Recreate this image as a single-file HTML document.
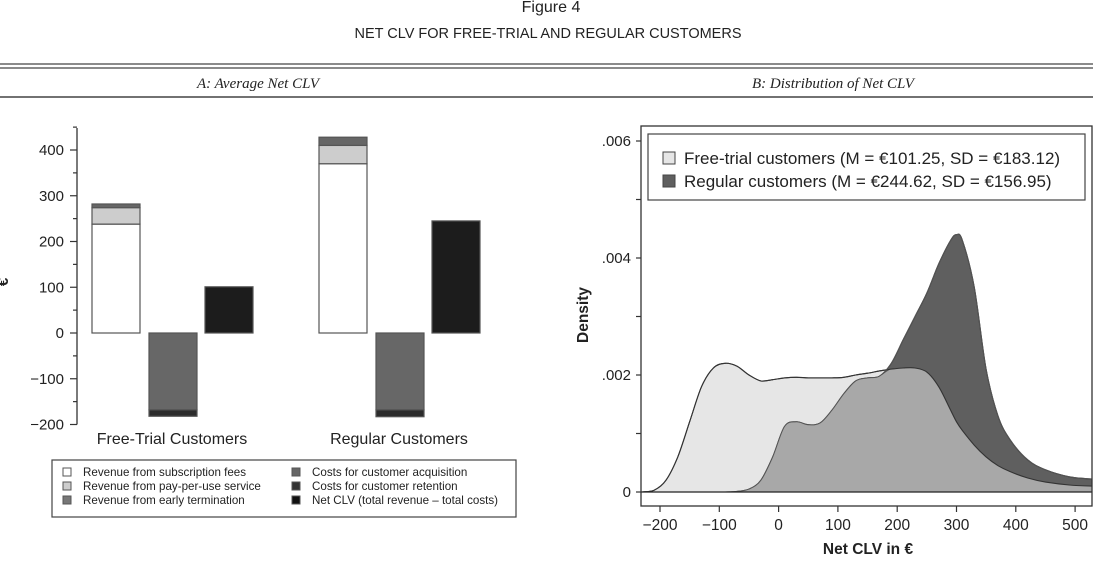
<!DOCTYPE html>
<html><head><meta charset="utf-8">
<style>
body{margin:0;background:#fff;width:1103px;height:569px;overflow:hidden}
svg{display:block;font-family:"Liberation Sans",sans-serif}
</style></head>
<body>
<svg id="fig" width="1103" height="569" viewBox="0 0 1103 569">
<text x="551" y="12" text-anchor="middle" font-size="16" fill="#222">Figure 4</text>
<text x="548" y="38" text-anchor="middle" font-size="14.5" fill="#222">NET CLV FOR FREE-TRIAL AND REGULAR CUSTOMERS</text>
<line x1="0" y1="64" x2="1093" y2="64" stroke="#444" stroke-width="1.2"/>
<line x1="0" y1="68" x2="1093" y2="68" stroke="#444" stroke-width="1.2"/>
<line x1="0" y1="97" x2="1093" y2="97" stroke="#444" stroke-width="1.5"/>
<text x="258" y="88" text-anchor="middle" font-size="15" font-style="italic" font-family="Liberation Serif,serif" fill="#222">A: Average Net CLV</text>
<text x="833" y="88" text-anchor="middle" font-size="15" font-style="italic" font-family="Liberation Serif,serif" fill="#222">B: Distribution of Net CLV</text>
<g id="left"></g>
<g id="right"></g>
</svg>
<script>
// Panel A data
const groups = ["Free-Trial Customers", "Regular Customers"];
const subscription = [238, 370];
const payPerUse = [36, 40];
const earlyTermination = [8, 18];
const acquisition = [-168, -168];
const retention = [-14, -15];
const netCLV = [101, 245];
const leftTicks = [-200, -100, 0, 100, 200, 300, 400];
// Panel B data
const densX = [-230,-210,-190,-170,-150,-130,-110,-90,-70,-50,-30,-10,10,30,50,70,90,110,130,150,170,190,210,230,250,270,290,300,310,330,350,370,390,420,450,490,530];
const freeTrialDensity = [0,0.00003,0.0002,0.0006,0.0012,0.0018,0.00212,0.0022,0.00215,0.002,0.0019,0.00192,0.00195,0.00196,0.00195,0.00195,0.00195,0.00196,0.002,0.00203,0.00207,0.0021,0.00212,0.00212,0.00205,0.0018,0.0014,0.0012,0.00105,0.0008,0.0006,0.00045,0.00035,0.00024,0.00017,0.00012,0.0001];
const regularDensity = [0,0,0,0,0,0,0,0,0.00001,0.00005,0.0002,0.0006,0.00112,0.0012,0.00115,0.00118,0.0014,0.00168,0.0019,0.00195,0.00198,0.0022,0.0026,0.003,0.0034,0.0039,0.0043,0.0044,0.0043,0.0035,0.0021,0.0013,0.0009,0.00055,0.00038,0.00026,0.00022];
const xTicks = [-200,-100,0,100,200,300,400,500];
const yTicks = [0,0.002,0.004,0.006];
const yTickLabels = ["0",".002",".004",".006"];

const NS="http://www.w3.org/2000/svg";
function mk(parent,tag,attrs,text){const e=document.createElementNS(NS,tag);for(const k in attrs)e.setAttribute(k,attrs[k]);if(text!==undefined)e.textContent=text;parent.appendChild(e);return e;}

// ---- Panel A
const L=document.getElementById('left');
const yA=v=>333-v*0.4575;
let e=mk(L,'line',{x1:77,y1:128,x2:77,y2:yA(-200),stroke:'#333','stroke-width':1.3});


for(let v=-200;v<=450;v+=50){
  const major=leftTicks.includes(v);
  e=mk(L,'line',{x1:major?70:73,y1:yA(v),x2:77,y2:yA(v),stroke:'#333','stroke-width':1.2});
  
  
}
leftTicks.forEach(v=>{
  e=mk(L,'text',{x:64,y:yA(v)+5,'text-anchor':'end','font-size':15,fill:'#222'},v<0?'\u2212'+(-v):String(v));
  
  
});
e=mk(L,'text',{x:8,y:282,'font-size':15,'font-weight':'bold',fill:'#222',transform:'rotate(-90 8 282)','text-anchor':'middle'},'€');


const groupX=[92,319];
function seg(x,v0,v1,fill,name){
  const a=yA(Math.max(v0,v1)),b=yA(Math.min(v0,v1));
  const r=mk(L,'rect',{x:x,y:a,width:48,height:b-a,fill:fill,stroke:'#555','stroke-width':1.2});
  
  
}
groups.forEach((g,i)=>{
  const x=groupX[i];
  let s=0;
  seg(x,s,s+subscription[i],'#fff','bar-subscription-fees');s+=subscription[i];
  seg(x,s,s+payPerUse[i],'#cdcdcd','bar-pay-per-use');s+=payPerUse[i];
  seg(x,s,s+earlyTermination[i],'#666','bar-early-termination');
  let c=0;
  seg(x+57,c,c+acquisition[i],'#676767','bar-acquisition-costs');c+=acquisition[i];
  seg(x+57,c,c+retention[i],'#2c2c2c','bar-retention-costs');
  seg(x+113,0,netCLV[i],'#1c1c1c','bar-net-clv');
  const t=mk(L,'text',{x:x+80,y:444,'text-anchor':'middle','font-size':16,fill:'#222'},g);
  
  
});
// legend A
const lg=mk(L,'g',{});


mk(lg,'rect',{x:52,y:460,width:464,height:57,fill:'#fff',stroke:'#444','stroke-width':1.2});
const legItems=[["Revenue from subscription fees","#fff",63,476],["Revenue from pay-per-use service","#cdcdcd",63,490],["Revenue from early termination","#777",63,504],["Costs for customer acquisition","#666",292,476],["Costs for customer retention","#333",292,490],["Net CLV (total revenue \u2013 total costs)","#111",292,504]];
legItems.forEach(it=>{
  const r=mk(lg,'rect',{x:it[2],y:it[3]-8,width:8,height:8,fill:it[1],stroke:'#555','stroke-width':1});
  
  
  const t=mk(lg,'text',{x:it[2]+20,y:it[3],'font-size':11.6,fill:'#222'},it[0]);
  
  
});

// ---- Panel B
const R=document.getElementById('right');
const xB=v=>660+(v+200)*0.593;
const yB=v=>492-v*58500;
const BX0=641,BX1=1092;
const cp=mk(R,'clipPath',{id:'clipB'});mk(cp,'rect',{x:BX0,y:126,width:BX1-BX0,height:380});
const plot=mk(R,'g',{'clip-path':'url(#clipB)'});
function smoothPath(vals){
  const pts=densX.map((x,i)=>[xB(x),yB(vals[i])]);
  let d='M'+pts[0][0].toFixed(1)+','+pts[0][1].toFixed(1);
  for(let i=0;i<pts.length-1;i++){
    const p0=pts[Math.max(0,i-1)],p1=pts[i],p2=pts[i+1],p3=pts[Math.min(pts.length-1,i+2)];
    const c1=[p1[0]+(p2[0]-p0[0])/6,p1[1]+(p2[1]-p0[1])/6];
    const c2=[p2[0]-(p3[0]-p1[0])/6,p2[1]-(p3[1]-p1[1])/6];
    c1[1]=Math.min(c1[1],yB(0));c2[1]=Math.min(c2[1],yB(0));
    d+=' C'+c1[0].toFixed(1)+','+c1[1].toFixed(1)+' '+c2[0].toFixed(1)+','+c2[1].toFixed(1)+' '+p2[0].toFixed(1)+','+p2[1].toFixed(1);
  }
  return d;
}
function area(vals,fill,stroke,name){
  const d=smoothPath(vals)+' L'+xB(densX[densX.length-1])+','+yB(0)+' L'+xB(densX[0])+','+yB(0)+' Z';
  const p=mk(plot,'path',{d:d,fill:fill,stroke:stroke,'stroke-width':1.1,'stroke-linejoin':'round'});
  
  
}
area(freeTrialDensity,'#e6e6e6','#333','area-free-trial');
area(regularDensity,'#5f5f5f','#333','area-regular');
area(densX.map((x,i)=>Math.min(freeTrialDensity[i],regularDensity[i])),'#a8a8a8','none','area-overlap');
e=mk(plot,'path',{d:smoothPath(freeTrialDensity),fill:'none',stroke:'#333','stroke-width':1.1});


e=mk(plot,'path',{d:smoothPath(regularDensity),fill:'none',stroke:'#555','stroke-width':1});


e=mk(R,'line',{x1:BX0,y1:492,x2:BX1,y2:492,stroke:'#222','stroke-width':1.3});


e=mk(R,'rect',{x:BX0,y:126,width:BX1-BX0,height:380,fill:'none',stroke:'#333','stroke-width':1.3});


for(let v=0;v<=0.0061;v+=0.001){
  e=mk(R,'line',{x1:636,y1:yB(v),x2:641,y2:yB(v),stroke:'#333','stroke-width':1.2});
  
  
}
yTicks.forEach((v,i)=>{
  e=mk(R,'text',{x:631,y:yB(v)+5,'text-anchor':'end','font-size':15,fill:'#222'},yTickLabels[i]);
  
  
});
xTicks.forEach(v=>{
  e=mk(R,'line',{x1:xB(v),y1:506,x2:xB(v),y2:512,stroke:'#333','stroke-width':1.2});
  
  
  e=mk(R,'text',{x:xB(v),y:530,'text-anchor':'middle','font-size':15.5,fill:'#222'},v<0?'\u2212'+(-v):String(v));
  
  
});
e=mk(R,'text',{x:868,y:554,'text-anchor':'middle','font-size':15.5,'font-weight':'bold',fill:'#222'},'Net CLV in €');


e=mk(R,'text',{x:588,y:315,'text-anchor':'middle','font-size':15.5,'font-weight':'bold',fill:'#222',transform:'rotate(-90 588 315)'},'Density');


const lb=mk(R,'g',{});


mk(lb,'rect',{x:648,y:134,width:437,height:66,fill:'#fff',stroke:'#444','stroke-width':1.2});
[["Free-trial customers (M = €101.25, SD = €183.12)","#e6e6e6",164],["Regular customers (M = €244.62, SD = €156.95)","#5f5f5f",187]].forEach(it=>{
  const r=mk(lb,'rect',{x:663,y:it[2]-12,width:12,height:12,fill:it[1],stroke:'#444','stroke-width':1});
  
  
  const t=mk(lb,'text',{x:684,y:it[2],'font-size':17,fill:'#222'},it[0]);
  
  
});
</script>
</body></html>
